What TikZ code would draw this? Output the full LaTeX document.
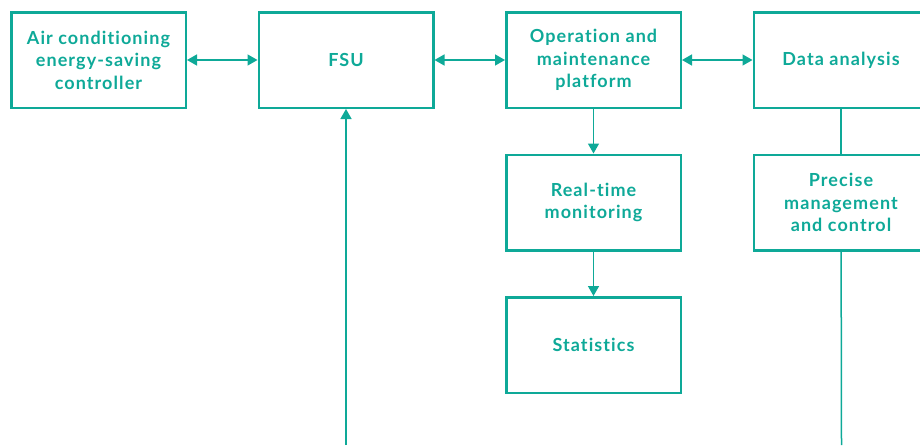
\documentclass[tikz,border=0pt]{standalone}
\usepackage{fontspec}
\setmainfont{Lato}[LetterSpace=6,Ligatures=NoCommon]
\usepackage{tikz}
\usetikzlibrary{arrows.meta}
\definecolor{tealc}{RGB}{14,169,152}

\begin{document}
\begin{tikzpicture}[x=1pt,y=1pt,>={Triangle[length=10pt,width=11pt]},node distance=247.5pt,
		main node/.style={rectangle,draw=tealc,line width=2.5pt,minimum width=174.5pt,minimum height=95.5pt,
			inner sep=0pt,align=center,text=tealc,font=\bfseries\fontsize{18}{22.5}\selectfont},
		link/.style={color=tealc,line width=1.5pt}]
		
		\useasboundingbox (0,0) rectangle (920,-445);
		\clip (0,0) rectangle (920,-445);
		
		\node[main node] (air) at (98.5,-60) {Air conditioning\\energy-saving\\controller};
		\node[main node] (fsu) [right of=air] {FSU};
		\node[main node] (om) [right of=fsu] {Operation and\\maintenance\\platform};
		\node[main node] (data) [right of=om] {Data analysis};
		\node[main node] (rt) [below of=om, node distance=142.5pt] {Real-time\\monitoring};
		\node[main node] (prec) [below of=data, node distance=142.5pt] {Precise\\management\\and control};
		\node[main node] (stat) [below of=rt, node distance=142.5pt] {Statistics};
		
		\coordinate (fsuin) at (346,-445);
		\coordinate (precout) at (841.5,-445);
		
		\path[link]
		(air) edge [<->] (fsu)
		(fsu) edge [<->] (om)
		(om) edge [<->] (data)
		(om) edge [->] (rt)
		(rt) edge [->] (stat)
		(data) edge (prec)
		(prec) edge (precout)
		(fsuin) edge [->] (fsu)
		;
\end{tikzpicture}
\end{document}
